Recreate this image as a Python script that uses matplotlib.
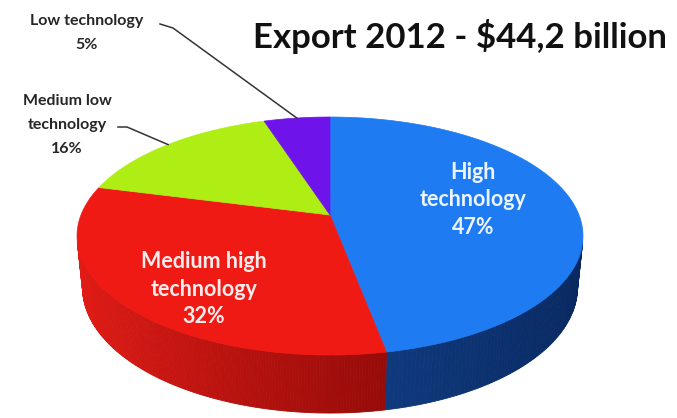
import numpy as np
import matplotlib.pyplot as plt
from matplotlib.patches import Polygon

# Export structure by technology level
shares = [47, 32, 16, 5]
label_lines = ['High\ntechnology', 'Medium high\ntechnology',
               'Medium low\ntechnology', 'Low technology']
title = 'Export 2012 - $44,2 billion'

top_colors = ['#1e7bf2', '#f01a14', '#aeee14', '#6e14eb']
# side shading: colour at the far left / far right of the cylinder
side_colors = [('#1a55ab', '#08275e'), ('#e41c16', '#610000'),
               ('#8cc60f', '#5a8a05'), ('#5a10c0', '#3a0880')]

plt.rcParams['font.family'] = ['Lato', 'DejaVu Sans']

# perspective camera for the 3D pie
cx, cy = 330, 215
focal = 1250.0
dist = 5.02
sin_a = 0.463
cos_a = np.sqrt(1 - sin_a ** 2)
thick = 0.236


def project(X, Y, Z):
    d = dist + Y * cos_a - Z * sin_a
    return cx + focal * X / d, cy - focal * (Y * sin_a + Z * cos_a) / d


def rim(phi, z=0.0, r=1.0):
    # phi in degrees, clockwise from the back of the pie
    t = np.radians(phi)
    return project(r * np.sin(t), r * np.cos(t), z)


fig = plt.figure(figsize=(6.77, 4.18), dpi=100)
ax = fig.add_axes([0, 0, 1, 1])
ax.set_xlim(0, 677)
ax.set_ylim(418, 0)
ax.axis('off')

bounds = np.concatenate([[0], np.cumsum(shares)]) / np.sum(shares) * 360.0
y_visible = -1.0 / (dist * cos_a)

# outer wall, only the part facing the camera
for i in range(len(shares)):
    phis = np.linspace(bounds[i], bounds[i + 1], 200)
    c_left = np.array(plt.matplotlib.colors.to_rgb(side_colors[i][0]))
    c_right = np.array(plt.matplotlib.colors.to_rgb(side_colors[i][1]))
    for a, b in zip(phis[:-1], phis[1:]):
        m = np.radians((a + b) / 2)
        if np.cos(m) >= y_visible:
            continue
        t = (np.sin(m) + 1) / 2
        col = np.clip(c_left + (c_right - c_left) * t, 0, 1)
        pts = [rim(a), rim(b), rim(b, -thick), rim(a, -thick)]
        ax.add_patch(Polygon(pts, closed=True, facecolor=col,
                             edgecolor=col, linewidth=0.6))

# top face wedges
for i in range(len(shares)):
    phis = np.linspace(bounds[i], bounds[i + 1], 200)
    xs, ys = rim(phis)
    pts = [project(0, 0, 0)] + list(zip(xs, ys))
    ax.add_patch(Polygon(pts, closed=True, facecolor=top_colors[i],
                         edgecolor=top_colors[i], linewidth=0.5))

# labels inside the two large slices
inside_pos = {0: (473, 200), 1: (204, 289)}
for i, (x, y) in inside_pos.items():
    ax.text(x, y, f'{label_lines[i]}\n{shares[i]}%', ha='center', va='center',
            color='white', alpha=0.92, fontsize=15.5, fontweight='bold',
            linespacing=1.4)

# labels outside the small slices, with leader lines
outside_pos = {2: (67, 125), 3: (87, 33)}
hooks = {2: [(118, 127), (127, 127)], 3: [(160, 24), (173, 28)]}
for i, (x, y) in outside_pos.items():
    ax.text(x, y, f'{label_lines[i]}\n{shares[i]}%', ha='center', va='center',
            color='#262626', fontsize=11.5, fontweight='bold', linespacing=1.9)
    end = rim((bounds[i] + bounds[i + 1]) / 2)
    lx = [p[0] for p in hooks[i]] + [end[0]]
    ly = [p[1] for p in hooks[i]] + [end[1]]
    ax.plot(lx, ly, color='#333333', linewidth=1.1)

ax.text(460, 48, title, ha='center', va='baseline', fontsize=25,
        fontweight='bold', color='#111111')

fig.savefig('out.png', dpi=100)
